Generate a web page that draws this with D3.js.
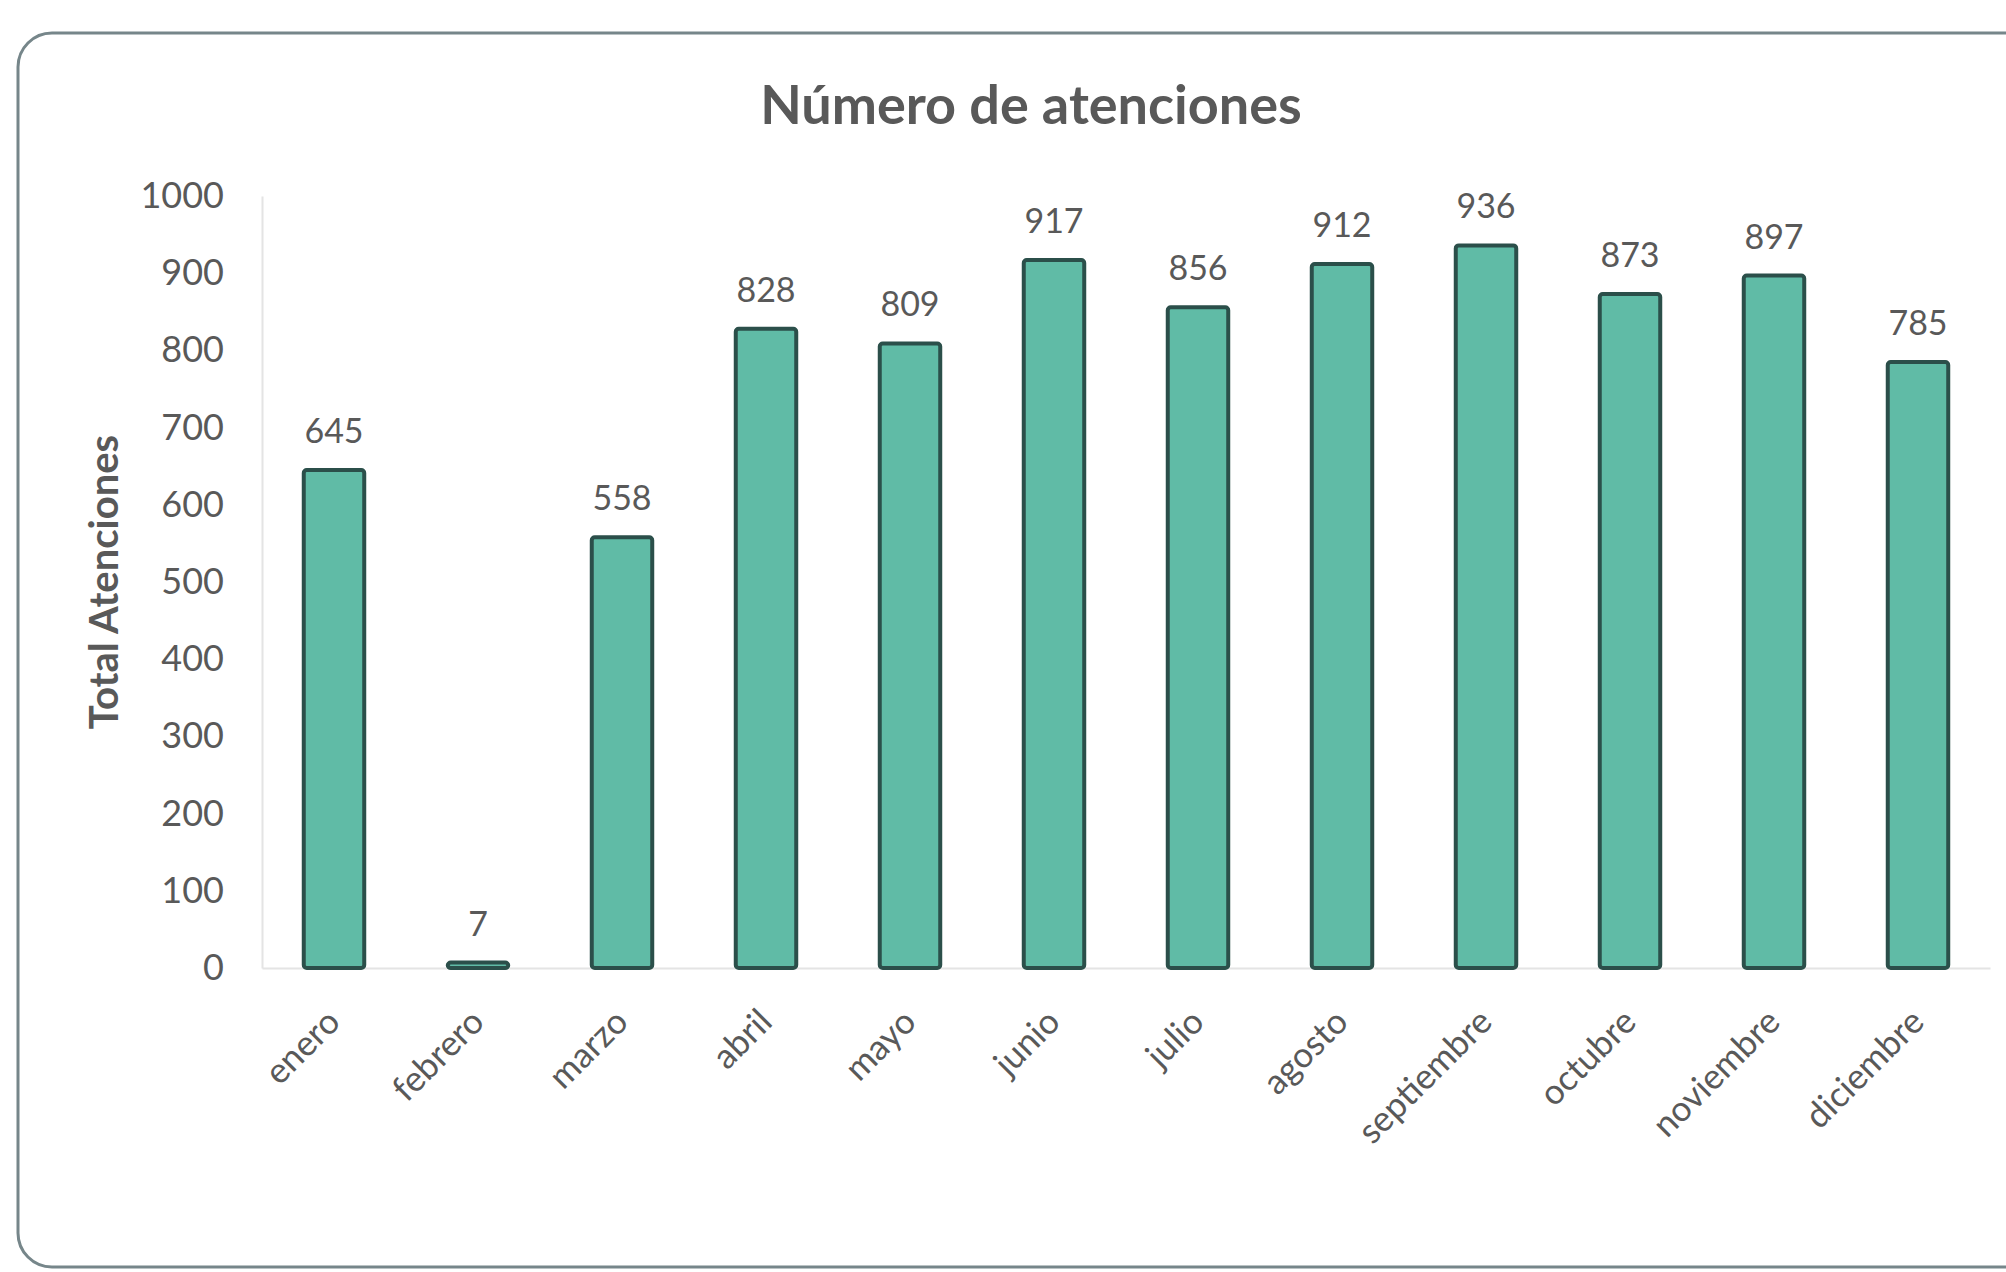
<!DOCTYPE html>
<html>
<head>
<meta charset="utf-8">
<script src="https://cdn.jsdelivr.net/npm/d3@7"></script>
<style>
  body { margin: 0; background: #fff; }
  svg { display: block; font-family: Lato, "Open Sans", sans-serif; }
</style>
</head>
<body>
<svg id="chart" width="2006" height="1272"></svg>
<script>
// datos
var meses = ["enero", "febrero", "marzo", "abril", "mayo", "junio", "julio",
             "agosto", "septiembre", "octubre", "noviembre", "diciembre"];
var atenciones = [645, 7, 558, 828, 809, 917, 856, 912, 936, 873, 897, 785];
var yTicks = [0, 100, 200, 300, 400, 500, 600, 700, 800, 900, 1000];

var svg = d3.select("#chart");
var margin = { left: 262, right: 16, top: 196, bottom: 304 };
var W = 2006, H = 1272;

var data = meses.map((m, i) => ({ mes: m, valor: atenciones[i] }));

// marco
svg.append("rect")
    .attr("x", 18).attr("y", 33)
    .attr("width", 2030).attr("height", 1234)
    .attr("rx", 34)
    .attr("fill", "#fff")
    .attr("stroke", "#76868a")
    .attr("stroke-width", 3);

var x = d3.scaleBand()
    .domain(meses)
    .range([margin.left, W - margin.right])
    .paddingInner(0.58)
    .paddingOuter(0.29);

var y = d3.scaleLinear()
    .domain([0, 1000])
    .range([H - margin.bottom, margin.top]);

// eje y
var gy = svg.append("g")
    .attr("transform", `translate(${margin.left},0)`)
    .call(d3.axisLeft(y).tickValues(yTicks).tickFormat(d3.format("d")).tickSize(0).tickPadding(38));
gy.select(".domain").attr("stroke", "#e4e4e4").attr("stroke-width", 2);
gy.selectAll("text").attr("font-size", 36).attr("fill", "#595959").attr("font-family", "Lato, sans-serif");

// eje x
var gx = svg.append("g")
    .attr("transform", `translate(0,${y(0)})`)
    .call(d3.axisBottom(x).tickSize(0).tickPadding(0));
gx.select(".domain").attr("stroke", "#e4e4e4").attr("stroke-width", 2);
gx.selectAll("text")
    .attr("font-size", 35)
    .attr("fill", "#595959")
    .attr("font-family", "Lato, sans-serif")
    .attr("text-anchor", "end")
    .attr("dy", 0)
    .attr("transform", "translate(8,56) rotate(-45)");

// barras
svg.append("g")
    .selectAll("rect")
    .data(data)
    .join("rect")
    .attr("x", d => x(d.mes))
    .attr("y", d => y(d.valor))
    .attr("width", x.bandwidth())
    .attr("height", d => y(0) - y(d.valor))
    .attr("rx", 3)
    .attr("fill", "#60bba6")
    .attr("stroke", "#2b4f4a")
    .attr("stroke-width", 4);

// etiquetas de valor
svg.append("g")
    .selectAll("text")
    .data(data)
    .join("text")
    .attr("x", d => x(d.mes) + x.bandwidth() / 2)
    .attr("y", d => y(d.valor) - 27)
    .attr("text-anchor", "middle")
    .attr("font-size", 34)
    .attr("fill", "#595959")
    .text(d => d.valor);

// título
svg.append("text")
    .attr("x", 1031)
    .attr("y", 124)
    .attr("text-anchor", "middle")
    .attr("font-size", 54)
    .attr("font-weight", "bold")
    .attr("fill", "#595959")
    .text("Número de atenciones");

// título eje y
svg.append("text")
    .attr("transform", `translate(118,${(y(0) + y(1000)) / 2}) rotate(-90)`)
    .attr("text-anchor", "middle")
    .attr("font-size", 40)
    .attr("font-weight", "bold")
    .attr("fill", "#595959")
    .text("Total Atenciones");
</script>
</body>
</html>
